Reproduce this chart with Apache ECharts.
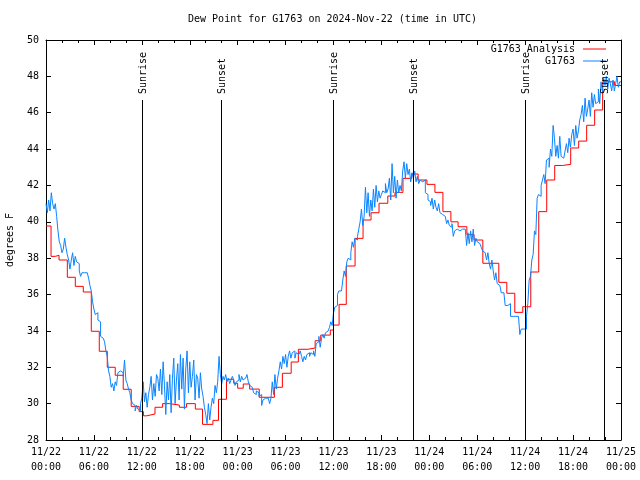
<!DOCTYPE html>
<html>
<head>
<meta charset="utf-8">
<script src="https://cdn.jsdelivr.net/npm/echarts@6/dist/echarts.min.js"></script>
<style>
html,body{margin:0;padding:0;background:#fff;}
#chart{width:640px;height:480px;}
</style>
</head>
<body>
<div id="chart"></div>
<script>
// Hours since 2024-11-22 00:00 UTC
var redTimes = [0, 0.63, 1.17, 1.63, 2.67, 3.67, 4.67, 5.67, 6.67, 7.67, 8.67, 9.67, 10.67, 11.67, 12.2, 12.6, 13.65, 14.6, 15.5, 16.7, 17.6, 18.7, 19.6, 20.9, 21.6, 22.6, 23.5, 24.0, 24.7, 25.5, 26.7, 28.6, 29.6, 30.7, 31.6, 32.8, 33.7, 34.4, 35.6, 36.0, 36.7, 37.6, 38.7, 39.7, 40.7, 41.7, 42.8, 43.7, 44.7, 45.8, 46.6, 47.7, 48.7, 49.7, 50.7, 51.6, 52.7, 53.6, 54.7, 56.7, 57.7, 58.7, 59.7, 60.7, 61.7, 62.7, 63.7, 64.7, 65.7, 66.7, 67.7, 68.7, 69.7, 71.2, 72];
var redValues = [39.77, 38.1, 38.16, 37.9, 36.95, 36.45, 36.14, 33.98, 32.88, 32.0, 31.56, 30.79, 29.85, 29.56, 29.33, 29.43, 29.8, 30.0, 29.92, 29.8, 30.0, 29.7, 28.86, 29.08, 30.24, 31.34, 31.12, 30.85, 31.08, 30.8, 30.35, 30.9, 31.67, 32.29, 32.99, 33.06, 33.46, 33.77, 34.05, 34.32, 35.46, 37.57, 39.09, 40.1, 40.5, 41.02, 41.42, 41.62, 42.39, 42.63, 42.3, 42.06, 41.62, 40.56, 40.0, 39.73, 39.29, 39.0, 37.72, 36.67, 36.07, 35.02, 35.33, 37.24, 40.56, 42.3, 43.1, 43.16, 44.06, 44.44, 45.31, 46.15, 47.7, 47.5, 47.5];

// G1763 observations, one value per 10 minutes starting 11/22 00:00
var blueValues = [
41.0, 40.5, 41.2, 40.6, 41.6, 41.0,
40.7, 41.0, 40.3, 39.5, 38.9, 38.7,
38.3, 38.5, 39.1, 38.6, 38.2, 37.9,
37.4, 37.9, 38.3, 37.6, 38.1, 37.8,
37.7, 37.3, 37.0, 37.2, 37.2, 37.2,
37.2, 37.2, 36.9, 36.5, 36.2, 35.6,
35.2, 34.9, 35.0, 34.6, 34.5, 33.7,
33.6, 33.6, 33.4, 32.9, 32.6, 31.8,
31.5, 30.9, 31.1, 30.7, 31.2, 31.0,
31.7, 31.8, 31.8, 31.7, 31.5, 32.4,
31.3, 31.1, 30.8, 30.6, 30.2, 30.0,
29.9, 29.6, 29.9, 29.7, 29.6, 30.0,
30.3, 31.2, 30.1, 30.6, 29.8, 30.5,
30.9, 31.5, 30.2, 31.1, 30.4, 31.6,
31.4, 30.7, 31.9, 30.5, 32.3, 31.0,
29.4, 31.2, 30.2, 31.6, 29.5, 31.4,
32.5, 30.0, 31.3, 32.2, 30.2, 32.7,
30.8, 32.5, 29.7, 31.9, 32.9, 30.6,
32.3, 30.9, 31.5, 32.4, 30.2, 31.6,
31.4, 30.3, 31.7, 30.8, 30.4, 29.8,
29.4, 28.9, 30.0, 29.1, 29.8, 30.3,
30.0, 31.0, 30.6, 31.2, 32.6, 31.6,
31.1, 31.5, 31.3, 31.6, 31.2, 31.4,
31.1, 31.3, 31.5, 31.3, 31.0, 31.2,
31.3, 31.6, 31.2, 31.5, 31.3, 31.4,
31.3, 31.6, 31.2, 31.0, 30.9, 30.9,
30.6, 30.5, 30.7, 30.6, 30.4, 30.5,
29.9, 30.2, 30.3, 30.3, 30.3, 30.3,
30.0, 30.3, 31.2, 30.5, 31.6, 30.8,
31.4, 31.8, 32.3, 31.9, 32.6, 32.2,
32.7, 32.0, 32.6, 32.9, 32.5, 32.8,
32.9, 32.5, 32.8, 32.7, 32.6, 32.9,
32.6, 32.3, 32.6, 32.4, 32.7, 32.8,
32.6, 32.8, 32.7, 32.9, 32.6, 33.3,
33.4, 33.7, 33.1, 33.6, 33.8, 33.6,
33.9, 34.0, 34.0, 34.2, 34.5, 34.3,
35.0, 35.3, 35.4, 36.0, 36.2, 36.2,
36.2, 36.8, 37.3, 37.0, 37.8, 38.0,
37.9, 38.3, 38.9, 38.6, 39.1, 39.0,
39.2, 39.6, 40.0, 40.7, 39.8, 40.3,
41.9, 40.5, 41.6, 40.3, 41.2, 40.6,
41.8, 40.8, 42.0, 41.1, 41.7, 41.3,
41.5, 41.7, 41.6, 42.1, 41.6, 41.8,
42.4, 41.2, 43.2, 41.6, 42.5, 41.3,
42.3, 41.6, 42.0, 41.7, 42.8, 43.3,
42.4, 43.2, 42.6, 42.9, 42.2, 42.7,
42.4, 42.8, 42.2, 42.5, 42.1, 42.3,
42.2, 42.1, 42.3, 41.6, 41.5, 41.2,
41.1, 40.9, 41.3, 40.7, 41.2, 40.8,
40.6, 41.0, 40.5, 40.4, 40.5, 40.3,
40.2, 39.9, 40.1, 39.8, 39.7, 39.9,
39.2, 39.5, 39.6, 39.6, 39.5, 39.6,
39.6, 39.5, 39.6, 39.5, 38.7, 39.4,
38.8, 39.5, 38.9, 39.6, 38.7, 39.1,
38.9, 38.8, 38.7, 38.6, 38.4, 38.3,
38.2, 37.9, 38.3, 37.7, 37.4, 37.9,
37.3, 36.8, 37.2, 36.6, 36.5, 36.4,
36.1, 36.1, 36.1, 35.4, 35.4, 35.4,
35.5, 34.8, 34.8, 34.8, 34.8, 34.8,
34.8, 34.8, 33.8, 34.1, 34.1, 34.1,
34.1, 34.8, 35.5, 36.8, 37.0, 37.9,
38.2, 39.5, 39.3, 41.3, 41.5, 41.4,
42.0, 42.3, 42.6, 42.1, 43.4, 43.5,
43.0, 44.0, 43.6, 45.3, 44.6, 43.6,
44.2, 43.5, 44.7, 43.6, 43.5, 43.4,
43.9, 44.3, 43.8, 44.6, 44.1, 44.8,
45.1, 44.2, 45.3, 44.6, 45.0, 45.6,
45.9, 46.4, 45.5, 46.8, 45.8, 46.2,
46.7, 45.8, 47.1, 46.3, 47.0, 46.5,
46.6, 47.3, 46.5, 47.7, 47.2, 47.9,
47.5, 48.0, 47.3, 47.9, 47.6, 47.2,
47.8, 47.2, 47.6, 48.0, 47.4, 47.7
];

var eventTimes = [11.98, 21.95, 35.99, 45.9, 60.0, 69.9];
var eventLabels = ['Sunrise', 'Sunset', 'Sunrise', 'Sunset', 'Sunrise', 'Sunset'];

var yTicks = [28, 50, 2];
var xTicks = [0, 72, 6];

var FONT = 'DejaVu Sans Mono';

var redData = redTimes.map(function (t, i) { return [t, redValues[i]]; });
var blueData = blueValues.map(function (v, i) { return [i / 6, v]; });
blueData.push([72, blueValues[blueValues.length - 1]]);
var eventData = eventTimes.map(function (t, i) { return [t, 46.7, eventLabels[i]]; });

function xLabel(v) {
  var day = 22 + Math.floor(v / 24 + 1e-9);
  var hr = Math.round(v - (day - 22) * 24);
  return '11/' + day + '\n' + (hr < 10 ? '0' : '') + hr + ':00';
}

var chart = echarts.init(document.getElementById('chart'), null, { renderer: 'canvas' });
var tickStyle = { color: '#000', width: 1 };
chart.setOption({
  animation: false,
  backgroundColor: '#fff',
  title: {
    text: 'Dew Point for G1763 on 2024-Nov-22 (time in UTC)',
    left: 332.5, top: 13, textAlign: 'center', padding: 0,
    textStyle: { fontFamily: FONT, fontSize: 10, fontWeight: 'normal', color: '#000', lineHeight: 12 }
  },
  legend: {
    orient: 'vertical', right: 34, top: 43, align: 'right', padding: 0,
    itemWidth: 23, itemHeight: 1, itemGap: 0, symbolKeepAspect: false,
    textStyle: { fontFamily: FONT, fontSize: 10, color: '#000', lineHeight: 12, padding: [0, 3, 0, 0] },
    data: [{ name: 'G1763 Analysis', icon: 'rect' }, { name: 'G1763', icon: 'rect' }]
  },
  grid: { left: 46, right: 19, top: 40, bottom: 40, containLabel: false, outerBoundsMode: 'none' },
  xAxis: [{
    type: 'value', min: xTicks[0], max: xTicks[1], interval: xTicks[2], position: 'bottom',
    axisLine: { show: true, onZero: false, lineStyle: tickStyle },
    axisTick: { show: true, inside: true, length: 5, lineStyle: tickStyle },
    minorTick: { show: true, splitNumber: 3, length: 3, lineStyle: tickStyle },
    splitLine: { show: false },
    axisLabel: { formatter: xLabel, fontFamily: FONT, fontSize: 10, color: '#000', lineHeight: 15, margin: 5, showMinLabel: true, showMaxLabel: true }
  }, {
    type: 'value', min: xTicks[0], max: xTicks[1], interval: xTicks[2], position: 'top',
    axisLine: { show: true, onZero: false, lineStyle: tickStyle },
    axisTick: { show: true, inside: true, length: 5, lineStyle: tickStyle },
    minorTick: { show: true, splitNumber: 3, length: 3, lineStyle: tickStyle },
    splitLine: { show: false },
    axisLabel: { show: false }
  }],
  yAxis: [{
    type: 'value', min: yTicks[0], max: yTicks[1], interval: yTicks[2], position: 'left',
    name: 'degrees F', nameLocation: 'middle', nameGap: 31,
    nameTextStyle: { fontFamily: FONT, fontSize: 10, color: '#000' },
    axisLine: { show: true, onZero: false, lineStyle: tickStyle },
    axisTick: { show: true, inside: true, length: 5, lineStyle: tickStyle },
    splitLine: { show: false },
    axisLabel: { fontFamily: FONT, fontSize: 10, color: '#000', margin: 7 }
  }, {
    type: 'value', min: yTicks[0], max: yTicks[1], interval: yTicks[2], position: 'right',
    axisLine: { show: true, onZero: false, lineStyle: tickStyle },
    axisTick: { show: true, inside: true, length: 5, lineStyle: tickStyle },
    splitLine: { show: false },
    axisLabel: { show: false }
  }],
  series: [{
    name: 'G1763 Analysis', type: 'line', step: 'end', data: redData,
    symbol: 'none', showSymbol: false, z: 2,
    lineStyle: { color: '#ff0000', width: 1 }, itemStyle: { color: '#ff0000' }
  }, {
    name: 'G1763', type: 'line', step: 'end', data: blueData,
    symbol: 'none', showSymbol: false, z: 3,
    lineStyle: { color: '#0a84ff', width: 1 }, itemStyle: { color: '#0a84ff' }
  }, {
    name: 'events', type: 'custom', data: eventData, z: 5, silent: true,
    renderItem: function (params, api) {
      var t = api.value(0);
      var p0 = api.coord([t, 28]);
      var p1 = api.coord([t, api.value(1)]);
      var x = Math.round(p0[0]) + 0.5;
      return {
        type: 'group',
        children: [{
          type: 'line',
          shape: { x1: x, y1: p0[1], x2: x, y2: p1[1] },
          style: { stroke: '#000', lineWidth: 1 }
        }, {
          type: 'text',
          x: x + 1, y: p1[1] - 6,
          rotation: Math.PI / 2,
          style: { text: eventLabels[params.dataIndex], fontFamily: FONT, fontSize: 10, fill: '#000', align: 'left', verticalAlign: 'middle' }
        }]
      };
    }
  }]
});
</script>
</body>
</html>
